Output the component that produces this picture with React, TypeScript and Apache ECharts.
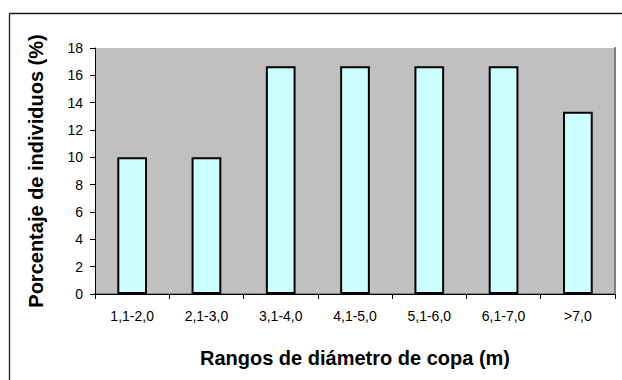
import React, { useEffect, useRef } from "react";
import * as echarts from "echarts";

const categories = ["1,1-2,0", "2,1-3,0", "3,1-4,0", "4,1-5,0", "5,1-6,0", "6,1-7,0", ">7,0"];
const percentages = [10, 10, 16.67, 16.67, 16.67, 16.67, 13.33];
const yTitle = "Porcentaje de individuos (%)";
const xTitle = "Rangos de diámetro de copa (m)";

const FONT = "'Liberation Sans', Arial, sans-serif";

export default function App() {
  const ref = useRef<HTMLDivElement>(null);

  useEffect(() => {
    if (!ref.current) return;
    const chart = echarts.init(ref.current, undefined, { renderer: "svg" });
    const frame = { stroke: "#1a1a1a", lineWidth: 1.3 };
    chart.setOption({
      animation: false,
      backgroundColor: "#ffffff",
      graphic: [
        // chart-area frame (left and top edges fall inside the view)
        { type: "line", shape: { x1: 9.5, y1: 13.5, x2: 622, y2: 13.5 }, style: frame, silent: true },
        { type: "line", shape: { x1: 9.5, y1: 13.5, x2: 9.5, y2: 380 }, style: frame, silent: true },
      ],
      grid: {
        left: 95,
        right: 7,
        top: 48,
        bottom: 86,
        show: true,
        backgroundColor: "#C0C0C0",
        borderWidth: 0,
      },
      xAxis: [
        {
          type: "category",
          data: categories,
          name: xTitle,
          nameLocation: "middle",
          nameGap: 54,
          nameTextStyle: { fontFamily: FONT, fontSize: 20, fontWeight: "bold", color: "#000" },
          axisLine: { show: true, lineStyle: { color: "#000", width: 1 } },
          axisTick: { show: true, alignWithLabel: false, length: 5, lineStyle: { color: "#000" } },
          axisLabel: { fontFamily: FONT, fontSize: 14, color: "#000", margin: 15 },
          splitLine: { show: false },
          z: 5,
        },
        {
          type: "category",
          data: categories,
          position: "top",
          axisLine: { show: true, lineStyle: { color: "#808080", width: 2 } },
          axisTick: { show: false },
          axisLabel: { show: false },
          splitLine: { show: false },
        },
      ],
      yAxis: [
        {
          type: "value",
          min: 0,
          max: 18,
          interval: 2,
          name: yTitle,
          nameLocation: "middle",
          nameGap: 49,
          nameTextStyle: { fontFamily: FONT, fontSize: 20, fontWeight: "bold", color: "#000" },
          axisLine: { show: true, lineStyle: { color: "#000", width: 1 } },
          axisTick: { show: true, length: 5, lineStyle: { color: "#000" } },
          axisLabel: { fontFamily: FONT, fontSize: 14, color: "#000", margin: 12 },
          splitLine: { show: false },
          z: 5,
        },
        {
          type: "value",
          min: 0,
          max: 18,
          interval: 2,
          position: "right",
          axisLine: { show: true, lineStyle: { color: "#808080", width: 2 } },
          axisTick: { show: false },
          axisLabel: { show: false },
          splitLine: { show: false },
        },
      ],
      series: [
        {
          type: "bar",
          data: percentages,
          barCategoryGap: "60%",
          itemStyle: { color: "#CCFFFF", borderColor: "#000", borderWidth: 2 },
        },
      ],
    });
    return () => chart.dispose();
  }, []);

  return <div ref={ref} style={{ width: 622, height: 380, position: "absolute", left: 0, top: 0 }} />;
}
